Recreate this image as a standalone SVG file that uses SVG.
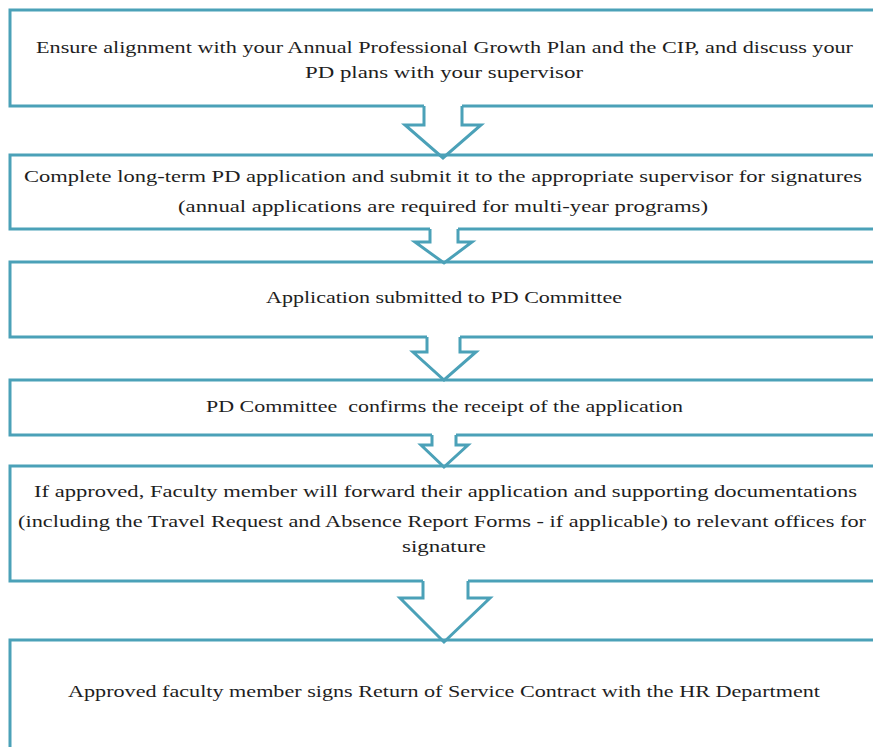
<svg xmlns="http://www.w3.org/2000/svg" width="873" height="747" viewBox="0 0 873 747">
  <style>
    .box { fill: none; stroke: #4ba1b8; stroke-width: 3; stroke-linejoin: miter; }
    .arrow { fill: none; stroke: #4ba1b8; stroke-width: 3; stroke-linejoin: miter; }
    .t { font-family: "Liberation Serif", "DejaVu Serif", serif; font-size: 16.5px; fill: #1e1e1e; text-anchor: middle; }
  </style>
  <rect width="873" height="747" fill="#ffffff"/>

  <!-- process steps: boxes open past the right edge, with a gap in the bottom edge for the outgoing arrow -->
  <g id="step1">
    <path class="box" d="M 890 106 H 462 M 424 106 H 10 V 10 H 890"/>
    <text class="t" x="444.5" y="53" textLength="817" lengthAdjust="spacingAndGlyphs">Ensure alignment with your Annual Professional Growth Plan and the CIP, and discuss your</text>
    <text class="t" x="444" y="78" textLength="278" lengthAdjust="spacingAndGlyphs">PD plans with your supervisor</text>
  </g>
  <g id="step2">
    <path class="box" d="M 890 229 H 458 M 430 229 H 10 V 155 H 890"/>
    <text class="t" x="443" y="182" textLength="838" lengthAdjust="spacingAndGlyphs">Complete long-term PD application and submit it to the appropriate supervisor for signatures</text>
    <text class="t" x="443" y="212" textLength="530" lengthAdjust="spacingAndGlyphs">(annual applications are required for multi-year programs)</text>
  </g>
  <g id="step3">
    <path class="box" d="M 890 337 H 460 M 427 337 H 10 V 262 H 890"/>
    <text class="t" x="444" y="303" textLength="356" lengthAdjust="spacingAndGlyphs">Application submitted to PD Committee</text>
  </g>
  <g id="step4">
    <path class="box" d="M 890 435 H 456 M 432 435 H 10 V 380 H 890"/>
    <text class="t" x="444.5" y="412" textLength="477" lengthAdjust="spacingAndGlyphs" xml:space="preserve">PD Committee  confirms the receipt of the application</text>
  </g>
  <g id="step5">
    <path class="box" d="M 890 581 H 468 M 423 581 H 10 V 466 H 890"/>
    <text class="t" x="445.5" y="497" textLength="823" lengthAdjust="spacingAndGlyphs">If approved, Faculty member will forward their application and supporting documentations</text>
    <text class="t" x="442" y="527" textLength="848" lengthAdjust="spacingAndGlyphs">(including the Travel Request and Absence Report Forms - if applicable) to relevant offices for</text>
    <text class="t" x="444" y="552" textLength="84" lengthAdjust="spacingAndGlyphs">signature</text>
  </g>
  <g id="step6">
    <path class="box" d="M 10 760 V 640 H 890"/>
    <text class="t" x="444" y="697" textLength="752" lengthAdjust="spacingAndGlyphs">Approved faculty member signs Return of Service Contract with the HR Department</text>
  </g>

  <!-- block arrows between steps -->
  <g id="connectors">
    <path class="arrow" d="M 424 106 V 125 H 405 L 443 158 L 481 125 H 462 V 106"/>
    <path class="arrow" d="M 430 229 V 242 H 415 L 444 263 L 472 242 H 458 V 229"/>
    <path class="arrow" d="M 427 337 V 352 H 413 L 444 380 L 476 352 H 460 V 337"/>
    <path class="arrow" d="M 432 435 V 445 H 421 L 444 467 L 468 445 H 456 V 435"/>
    <path class="arrow" d="M 423 581 V 598 H 400 L 444 642 L 490 598 H 468 V 581"/>
  </g>
</svg>
